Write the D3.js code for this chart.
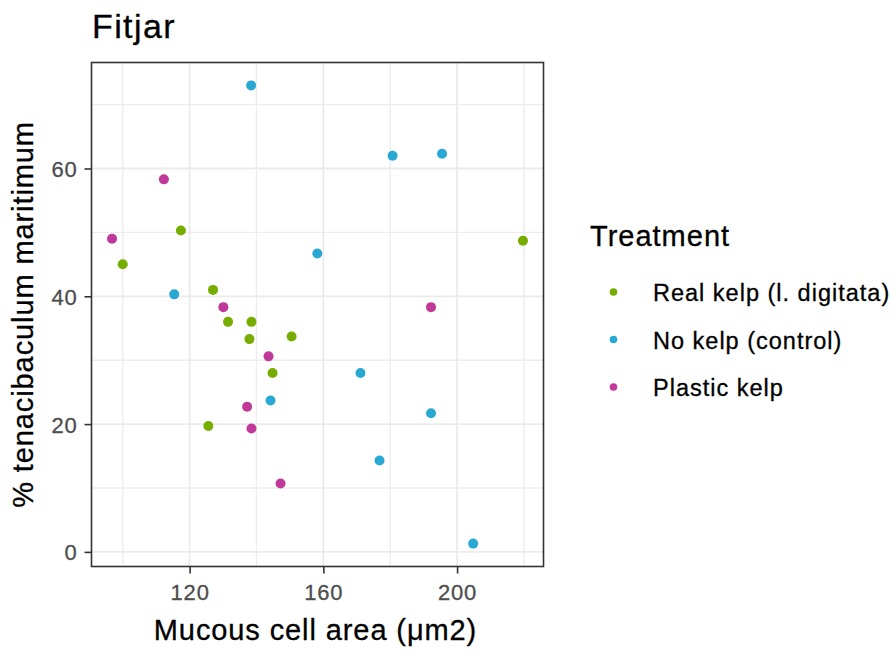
<!DOCTYPE html>
<html>
<head>
<meta charset="utf-8">
<script src="https://cdn.jsdelivr.net/npm/d3@7"></script>
<style>
  html, body { margin: 0; padding: 0; background: #fff; }
  svg { display: block; font-family: "Liberation Sans", Arial, sans-serif; }
</style>
</head>
<body>
<svg id="chart" width="895" height="653"></svg>
<script>
// ---- Data ----
const treatments = ["Real kelp (l. digitata)", "No kelp (control)", "Plastic kelp"];
const treatmentColors = ["#77AD00", "#29A8D4", "#C0399A"];

const realKelpX = [100.0, 117.4, 127.0, 131.5, 138.5, 137.9, 150.5, 144.8, 125.6, 219.7];
const realKelpY = [45.0, 50.3, 41.0, 36.0, 36.0, 33.3, 33.7, 28.0, 19.7, 48.7];

const noKelpX = [138.4, 115.4, 158.2, 180.7, 195.5, 171.1, 192.2, 176.8, 204.8, 144.2];
const noKelpY = [73.0, 40.3, 46.7, 62.0, 62.3, 28.0, 21.7, 14.3, 1.3, 23.7];

const plasticKelpX = [96.8, 112.3, 130.1, 143.6, 137.2, 138.5, 192.2, 147.2];
const plasticKelpY = [49.0, 58.3, 38.3, 30.6, 22.7, 19.3, 38.3, 10.7];

const xTicks = [120, 160, 200];
const xMinor = [100, 140, 180, 220];
const yTicks = [0, 20, 40, 60];
const yMinor = [10, 30, 50, 70];

const titleText = "Fitjar";
const xTitle = "Mucous cell area (\u03bcm2)";
const yTitle = "% tenacibaculum maritimum";
const legendTitle = "Treatment";

// ---- Build points ----
const seriesX = [realKelpX, noKelpX, plasticKelpX];
const seriesY = [realKelpY, noKelpY, plasticKelpY];
const points = [];
seriesX.forEach((xs, s) => xs.forEach((x, i) => points.push({x, y: seriesY[s][i], s})));

// ---- Layout ----
const panel = {left: 91.5, right: 543.5, top: 62.5, bottom: 566.5};
const svg = d3.select("#chart");

function expand(ext) { const r = ext[1] - ext[0]; return [ext[0] - 0.05 * r, ext[1] + 0.05 * r]; }
const x = d3.scaleLinear().domain(expand(d3.extent(points, d => d.x))).range([panel.left, panel.right]);
const y = d3.scaleLinear().domain(expand(d3.extent(points, d => d.y))).range([panel.bottom, panel.top]);

const g = svg.append("g");

// grid minor
g.selectAll(".xminor").data(xMinor).join("line")
  .attr("x1", d => x(d)).attr("x2", d => x(d))
  .attr("y1", panel.top).attr("y2", panel.bottom)
  .attr("stroke", "#EDEDED").attr("stroke-width", 1.4);
g.selectAll(".yminor").data(yMinor).join("line")
  .attr("y1", d => y(d)).attr("y2", d => y(d))
  .attr("x1", panel.left).attr("x2", panel.right)
  .attr("stroke", "#EDEDED").attr("stroke-width", 1.4);
// grid major
g.selectAll(".xmajor").data(xTicks).join("line")
  .attr("x1", d => x(d)).attr("x2", d => x(d))
  .attr("y1", panel.top).attr("y2", panel.bottom)
  .attr("stroke", "#EBEBEB").attr("stroke-width", 1.8);
g.selectAll(".ymajor").data(yTicks).join("line")
  .attr("y1", d => y(d)).attr("y2", d => y(d))
  .attr("x1", panel.left).attr("x2", panel.right)
  .attr("stroke", "#EBEBEB").attr("stroke-width", 1.8);

// points
g.selectAll(".pt").data(points).join("circle")
  .attr("cx", d => x(d.x)).attr("cy", d => y(d.y)).attr("r", 5)
  .attr("fill", d => treatmentColors[d.s]);

// panel border
g.append("rect")
  .attr("x", panel.left).attr("y", panel.top)
  .attr("width", panel.right - panel.left).attr("height", panel.bottom - panel.top)
  .attr("fill", "none").attr("stroke", "#333333").attr("stroke-width", 1.6);

// axes
const xAxis = d3.axisBottom(x).tickValues(xTicks).tickSizeInner(7).tickSizeOuter(0).tickPadding(11);
const yAxis = d3.axisLeft(y).tickValues(yTicks).tickSizeInner(7).tickSizeOuter(0).tickPadding(7);

const gx = svg.append("g").attr("transform", `translate(0,${panel.bottom})`).call(xAxis);
const gy = svg.append("g").attr("transform", `translate(${panel.left},0)`).call(yAxis);
[gx, gy].forEach(ax => {
  ax.select(".domain").remove();
  ax.selectAll(".tick line").attr("stroke", "#333333").attr("stroke-width", 1.6);
  ax.selectAll(".tick text")
    .attr("fill", "#4D4D4D")
    .attr("stroke", "#4D4D4D").attr("stroke-width", 0.3)
    .style("font-family", '"Liberation Sans", Arial, sans-serif')
    .style("font-size", "22px")
    .style("letter-spacing", "0.8px");
});
gy.selectAll(".tick text").attr("dy", "0.36em");

// titles
function txt(sel) { return sel.attr("fill", "#000").attr("stroke", "#000").attr("stroke-width", 0.3); }

txt(svg.append("text").attr("x", 92).attr("y", 38)
  .style("font-size", "34px").style("letter-spacing", "1.4px"))
  .text(titleText);

txt(svg.append("text").attr("x", (panel.left + panel.right) / 2 - 2).attr("y", 640)
  .attr("text-anchor", "middle")
  .style("font-size", "29px").style("letter-spacing", "0.9px"))
  .text(xTitle);

txt(svg.append("text")
  .attr("transform", `translate(33,${(panel.top + panel.bottom) / 2}) rotate(-90)`)
  .attr("text-anchor", "middle")
  .style("font-size", "29px").style("letter-spacing", "0.9px"))
  .text(yTitle);

// legend
const leg = svg.append("g");
txt(leg.append("text").attr("x", 590).attr("y", 246)
  .style("font-size", "29px").style("letter-spacing", "1px"))
  .text(legendTitle);

const legY = d3.scalePoint().domain(treatments).range([292, 387]);
const items = leg.selectAll(".item").data(treatments).join("g")
  .attr("transform", d => `translate(0,${legY(d)})`);
items.append("circle").attr("cx", 613.5).attr("cy", 0).attr("r", 3.8)
  .attr("fill", (d, i) => treatmentColors[i]);
txt(items.append("text").attr("x", 653).attr("y", 9)
  .style("font-size", "23.5px").style("letter-spacing", "1px"))
  .text(d => d);
</script>
</body>
</html>
